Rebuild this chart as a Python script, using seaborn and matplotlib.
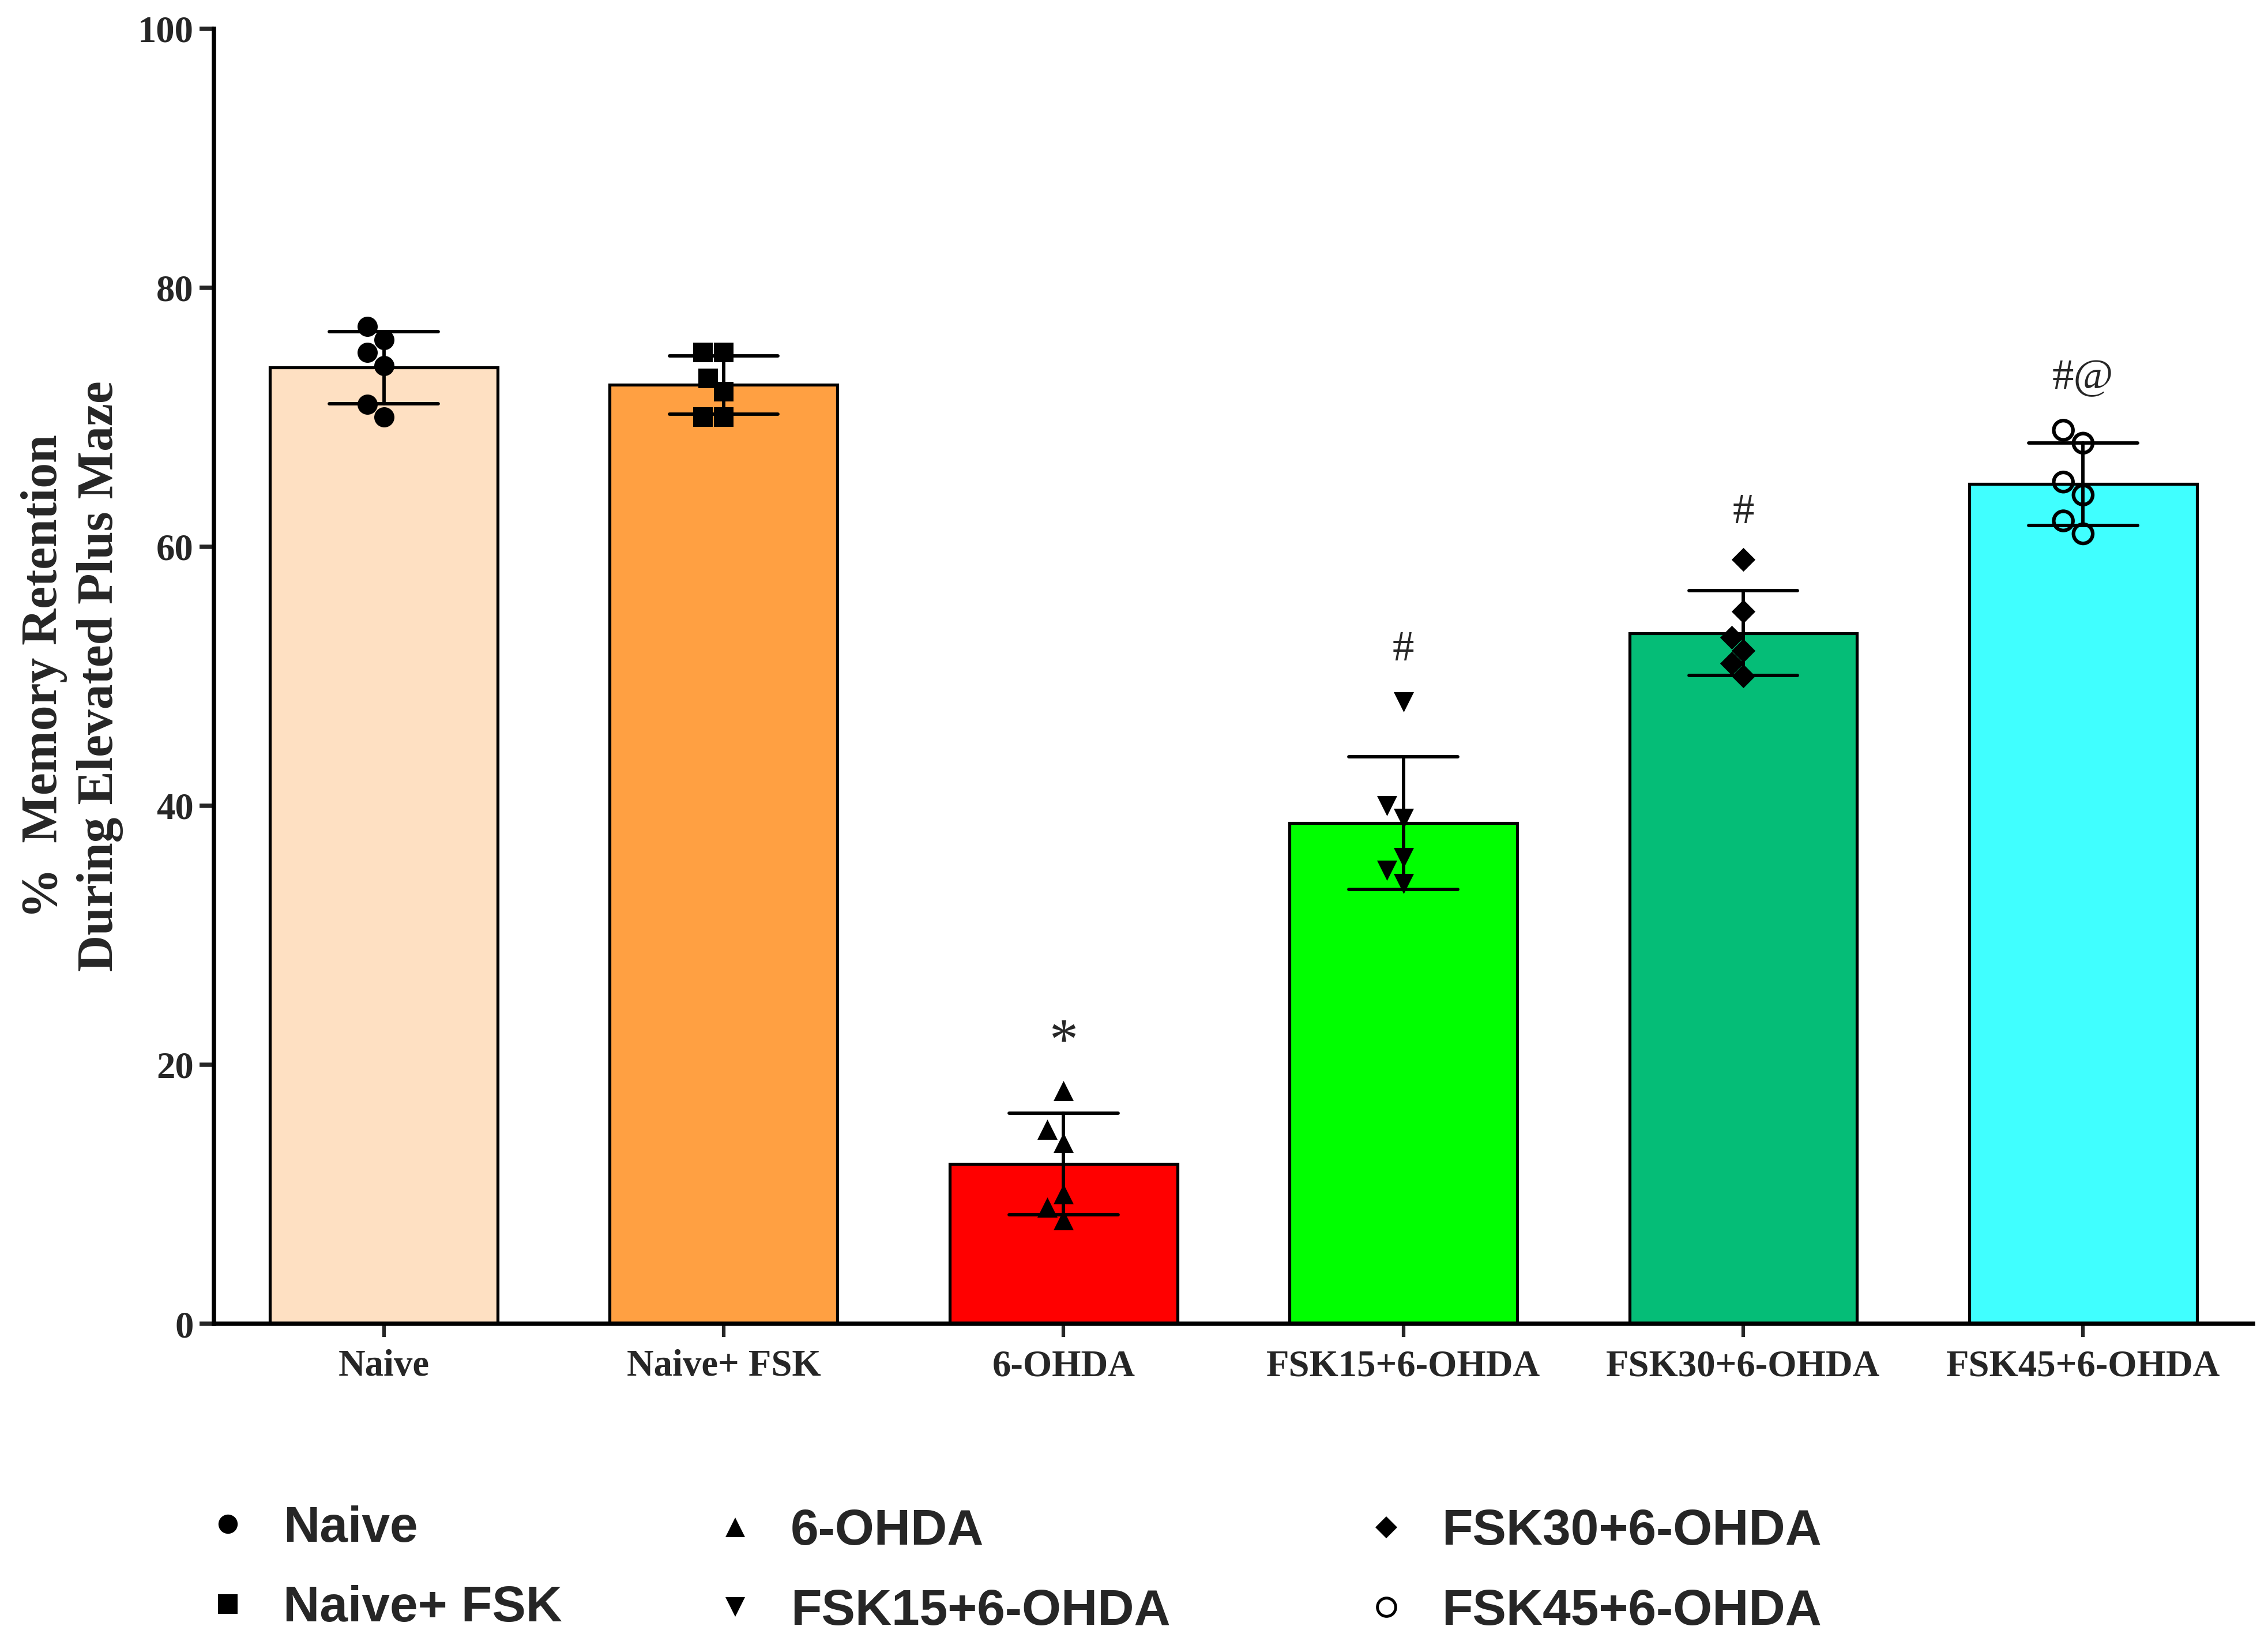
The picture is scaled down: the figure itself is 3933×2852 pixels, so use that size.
import numpy as np
import pandas as pd
import matplotlib
matplotlib.use("Agg")
import matplotlib.pyplot as plt
from matplotlib.lines import Line2D
import seaborn as sns

# ---- data ----
categories = ["Naive", "Naive+ FSK", "6-OHDA", "FSK15+6-OHDA", "FSK30+6-OHDA", "FSK45+6-OHDA"]
naive = [77, 76, 75, 74, 71, 70]
naive_fsk = [75, 75, 73, 72, 70, 70]
ohda = [18, 15, 14, 10, 9, 8]
fsk15 = [48, 40, 39, 36, 35, 34]
fsk30 = [59, 55, 53, 52, 51, 50]
fsk45 = [69, 68, 65, 64, 62, 61]
bar_colors = ["#FEE0C2", "#FFA042", "#FF0000", "#00FF00", "#05BD77", "#40FFFF"]
markers = ["o", "s", "^", "v", "D", "o"]
marker_sizes = [8.4, 8.2, 8.4, 8.4, 7.0, 8.0]
legend_marker_sizes = [8.0, 8.0, 8.0, 8.0, 6.6, 7.6]
annot_text = ["", "", "*", "#", "#", "#@"]
annot_y = [0, 0, 21.6, 52.0, 62.6, 73.0]
annot_size = [0, 0, 24, 18, 18, 18]
yticks = [0, 20, 40, 60, 80, 100]

series = [naive, naive_fsk, ohda, fsk15, fsk30, fsk45]
df = pd.DataFrame({
    "group": np.repeat(categories, [len(s) for s in series]),
    "value": np.concatenate(series),
})

sns.set_style("white")
plt.rcParams["font.family"] = ["Liberation Serif", "DejaVu Serif"]
plt.rcParams["font.weight"] = "bold"

fig = plt.figure(figsize=(3933 / 300, 2852 / 300), dpi=300)
ax = fig.add_axes([0.0943, 0.1953, 0.8991, 0.7872])

sns.barplot(data=df, x="group", y="value", hue="group", order=categories,
            hue_order=categories, palette=bar_colors, legend=False,
            saturation=1, errorbar="sd", capsize=0.32, width=0.67,
            edgecolor="black", linewidth=1.25,
            err_kws={"color": "black", "linewidth": 1.4}, ax=ax)

for i, (g, m, ms) in enumerate(zip(categories, markers, marker_sizes)):
    sub = df[df["group"] == g]
    hollow = (i == 5)
    sns.swarmplot(data=sub, x="group", y="value", order=categories,
                  marker=m, color="black", size=ms,
                  linewidth=1.5 if hollow else 0, edgecolor="black",
                  ax=ax, zorder=5)
    if hollow:
        ax.collections[-1].set_facecolor("none")
        ax.collections[-1].set_edgecolor("black")

for i, (t, yv, fs) in enumerate(zip(annot_text, annot_y, annot_size)):
    if t:
        ax.text(i, yv, t, ha="center", va="center", fontsize=fs,
                fontweight="normal", family=["Liberation Serif"])

ax.set_xlim(-0.5, 5.5)
ax.set_ylim(0, 100)
ax.set_yticks(yticks)
ax.set_yticklabels([str(v) for v in yticks])
ax.set_xlabel("")
ax.set_ylabel("%  Memory Retention\nDuring Elevated Plus Maze", fontsize=21,
              fontweight="bold", labelpad=6, linespacing=1.26)
sns.despine(ax=ax)
for s in ["left", "bottom"]:
    ax.spines[s].set_linewidth(1.8)
    ax.spines[s].set_color("black")
ax.tick_params(axis="y", length=6, width=1.8, pad=2.4, labelsize=15.5, direction="out", left=True)
ax.tick_params(axis="x", length=5.6, width=1.5, pad=5, labelsize=15.5, direction="out", bottom=True)
for lab in ax.get_xticklabels() + ax.get_yticklabels():
    lab.set_fontweight("bold")

handles = []
for g, m, ms in zip(categories, markers, legend_marker_sizes):
    hollow = (g == categories[5])
    handles.append(Line2D([], [], linestyle="none", marker=m, markersize=ms,
                          markerfacecolor="none" if hollow else "black",
                          markeredgecolor="black", markeredgewidth=1.2 if hollow else 0))

legend_cols = [(0, 2, 0.0893, 0.085), (2, 4, 0.313, 0.083), (4, 6, 0.600, 0.083)]
for a, b, lx, ly in legend_cols:
    fig.legend(handles[a:b], categories[a:b], loc="upper left",
               bbox_to_anchor=(lx, ly), ncol=1, frameon=False,
               handlelength=1.0, handletextpad=0.6, labelspacing=0.66,
               borderpad=0, borderaxespad=0,
               prop={"family": "Liberation Sans", "weight": "bold", "size": 21})

fig.savefig("out.png", dpi=300)
